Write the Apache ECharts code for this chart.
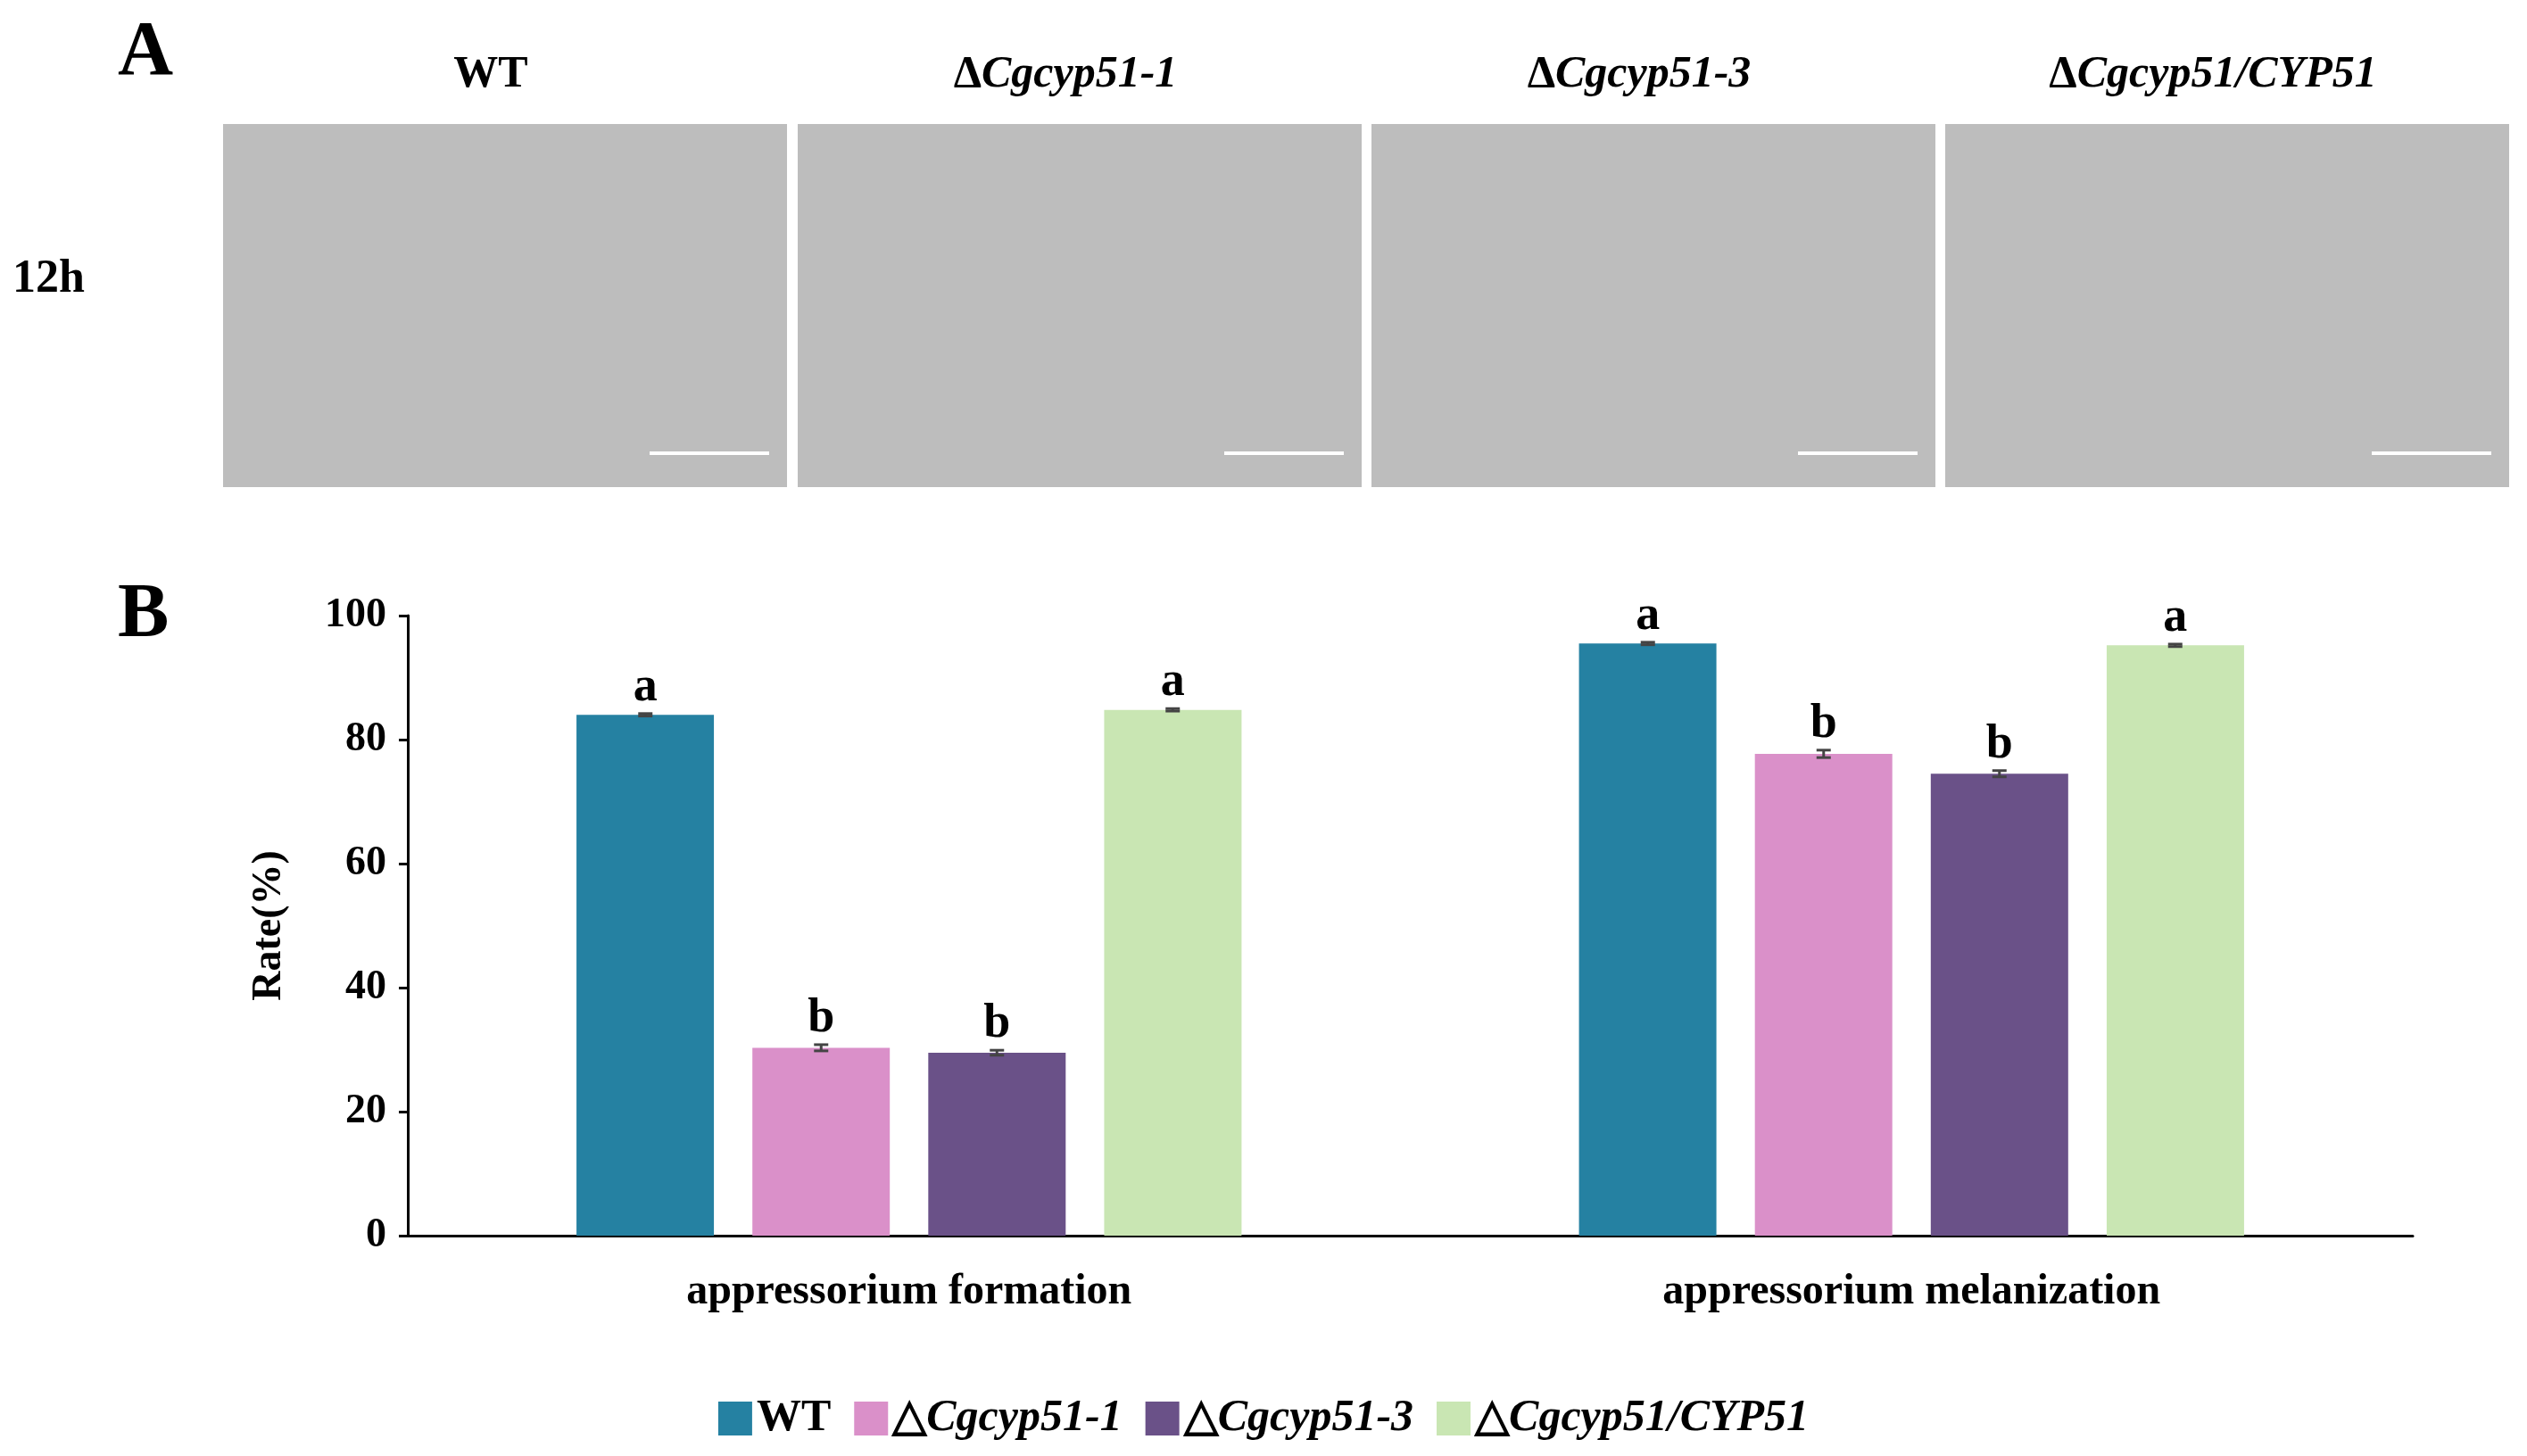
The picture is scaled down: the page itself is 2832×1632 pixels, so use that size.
<!DOCTYPE html>
<html><head><meta charset="utf-8">
<script src="https://cdn.jsdelivr.net/npm/echarts@6/dist/echarts.min.js"></script>
<style>html,body{margin:0;padding:0;background:#fff}#c{width:2832px;height:1632px}</style>
</head><body><div id="c"></div>
<script>
const categories = ['appressorium formation', 'appressorium melanization'];
const seriesNames = ['WT', 'ΔCgcyp51-1', 'ΔCgcyp51-3', 'ΔCgcyp51/CYP51'];
const wtValues = [84.0, 95.5];
const ko1Values = [30.3, 77.7];
const ko3Values = [29.5, 74.5];
const compValues = [84.8, 95.2];
const wtErr = [0.2, 0.2];
const ko1Err = [0.5, 0.6];
const ko3Err = [0.4, 0.5];
const compErr = [0.2, 0.2];
const wtLetters = ['a', 'a'];
const ko1Letters = ['b', 'b'];
const ko3Letters = ['b', 'b'];
const compLetters = ['a', 'a'];
const yTicks = [0, 20, 40, 60, 80, 100];
const colors = ['#2581a2', '#da90c9', '#6a5188', '#c9e6b3'];

const values = [wtValues, ko1Values, ko3Values, compValues];
const errs = [wtErr, ko1Err, ko3Err, compErr];
const letters = [wtLetters, ko1Letters, ko3Letters, compLetters];
const FONT = '"Liberation Serif", "Times New Roman", serif';
const BW = 154, STEP = 197;

const chart = echarts.init(document.getElementById('c'));
const series = [];
values.forEach((v, i) => {
  series.push({ name: seriesNames[i], type: 'bar', data: v, barWidth: BW, barGap: '28%',
    itemStyle: { color: colors[i] } });
});
values.forEach((v, i) => {
  series.push({ type: 'custom', silent: true, z: 10,
    data: v.map((val, j) => [j, val, errs[i][j]]),
    renderItem: (params, api) => {
      const c = api.coord([api.value(0), api.value(1)]);
      const x = c[0] + (i - 1.5) * STEP;
      const top = api.coord([api.value(0), api.value(1) + api.value(2)])[1];
      const bot = api.coord([api.value(0), api.value(1) - api.value(2)])[1];
      const st = { stroke: '#444', lineWidth: 3 };
      return { type: 'group', children: [
        { type: 'line', shape: { x1: x, y1: top, x2: x, y2: bot }, style: st },
        { type: 'line', shape: { x1: x - 8, y1: top, x2: x + 8, y2: top }, style: st },
        { type: 'line', shape: { x1: x - 8, y1: bot, x2: x + 8, y2: bot }, style: st },
        { type: 'text', style: { text: letters[i][params.dataIndex], x: x, y: top - 2,
          align: 'center', verticalAlign: 'bottom', font: 'bold 54px ' + FONT, fill: '#000' } }
      ]};
    }
  });
});

const panelX = [250, 894, 1537, 2180];
const graphics = [
  { type: 'text', left: 132, top: 18, style: { text: 'A', font: 'bold 86px ' + FONT, fill: '#000' } },
  { type: 'text', left: 132, top: 648, style: { text: 'B', font: 'bold 86px ' + FONT, fill: '#000' } },
  { type: 'text', left: 14, top: 288, style: { text: '12h', font: 'bold 52px ' + FONT, fill: '#000' } }
];
const titles = [['WT', ''], ['Δ', 'Cgcyp51-1'], ['Δ', 'Cgcyp51-3'], ['Δ', 'Cgcyp51/CYP51']];
panelX.forEach((x, k) => {
  graphics.push({ type: 'rect', shape: { x: x, y: 139, width: 632, height: 407 },
    style: { fill: '#bdbdbd' } });
  graphics.push({ type: 'line', shape: { x1: x + 478, y1: 508, x2: x + 612, y2: 508 },
    style: { stroke: '#fff', lineWidth: 4 } });
  graphics.push({ type: 'text', x: x + 300, y: 84, style: {
    text: '{n|' + titles[k][0] + '}{i|' + titles[k][1] + '}', align: 'center', verticalAlign: 'middle',
    rich: { n: { font: 'bold 50px ' + FONT, fill: '#000' }, i: { font: 'italic bold 50px ' + FONT, fill: '#000' } } } });
});

chart.setOption({
  animation: false,
  grid: { left: 457, right: 128, top: 690, bottom: 247 },
  graphic: graphics,
  legend: {
    data: seriesNames, bottom: 12, left: 'center', itemWidth: 38, itemHeight: 38, itemGap: 26,
    icon: 'rect',
    formatter: n => n === 'WT' ? '{n|WT}' : '{n|△}{i|' + n.slice(1) + '}',
    textStyle: { rich: { n: { fontFamily: FONT, fontWeight: 'bold', fontSize: 50, color: '#000' },
      i: { fontFamily: FONT, fontWeight: 'bold', fontStyle: 'italic', fontSize: 50, color: '#000' } } }
  },
  xAxis: { type: 'category', data: categories,
    axisLine: { lineStyle: { color: '#000', width: 3 } }, axisTick: { show: false },
    axisLabel: { margin: 40, fontFamily: FONT, fontWeight: 'bold', fontSize: 48, color: '#000' } },
  yAxis: { type: 'value', min: 0, max: 100, interval: 20, name: 'Rate(%)', nameLocation: 'middle', nameGap: 132,
    nameTextStyle: { fontFamily: FONT, fontWeight: 'bold', fontSize: 46, color: '#000' },
    axisLine: { show: true, lineStyle: { color: '#000', width: 3 } },
    axisTick: { show: true, inside: false, length: 10, lineStyle: { width: 3 } }, splitLine: { show: false },
    axisLabel: { margin: 24, fontFamily: FONT, fontWeight: 'bold', fontSize: 46, color: '#000',
      formatter: v => yTicks.includes(v) ? String(v) : '' } },
  series: series
});
</script></body></html>
